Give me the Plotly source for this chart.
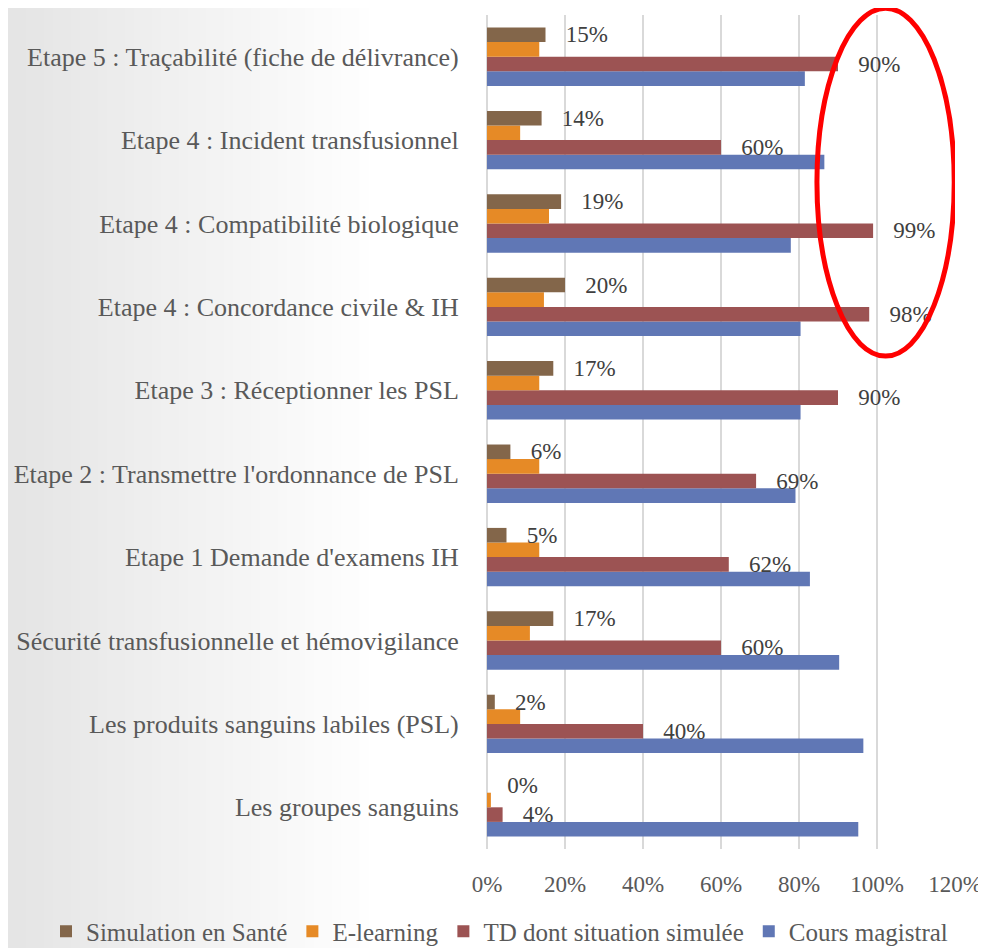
import plotly.graph_objects as go

# categories listed top -> bottom as shown on the chart
categories = [
    "Etape 5 : Traçabilité (fiche de délivrance)",
    "Etape 4 : Incident transfusionnel",
    "Etape 4 : Compatibilité biologique",
    "Etape 4 : Concordance civile & IH",
    "Etape 3 : Réceptionner les PSL",
    "Etape 2 : Transmettre l'ordonnance de PSL",
    "Etape 1 Demande d'examens IH",
    "Sécurité transfusionnelle et hémovigilance",
    "Les produits sanguins labiles (PSL)",
    "Les groupes sanguins",
]
simulation = [0.15, 0.14, 0.19, 0.20, 0.17, 0.06, 0.05, 0.17, 0.02, 0.00]
elearning = [0.134, 0.085, 0.159, 0.146, 0.134, 0.134, 0.134, 0.11, 0.085, 0.01]
td_simulee = [0.90, 0.60, 0.99, 0.98, 0.90, 0.69, 0.62, 0.60, 0.40, 0.04]
cours = [0.815, 0.865, 0.779, 0.804, 0.804, 0.791, 0.828, 0.903, 0.965, 0.952]
x_ticks = [0, 0.2, 0.4, 0.6, 0.8, 1.0, 1.2]

FONT = "'Liberation Serif', 'DejaVu Serif', serif"
GREY = "#595959"

# page body adds ~8px, so figure is a bit smaller than the window
W, H = 978, 940
L, R, T, B = 479, 31, 7, 99
PW = W - L - R

fig = go.Figure()
# first trace sits lowest in each group for horizontal bars
series = [
    ("Cours magistral", cours, "#6077B5", False),
    ("TD dont situation simulée", td_simulee, "#9C5353", True),
    ("E-learning", elearning, "#E68A26", False),
    ("Simulation en Santé", simulation, "#83664A", True),
]
for name, vals, col, lab in series:
    fig.add_trace(go.Bar(
        y=categories, x=vals, name=name, orientation="h",
        marker=dict(color=col, line=dict(width=0)),
        text=[f"   {round(v*100)}%" for v in vals] if lab else None,
        textposition="outside" if lab else "none",
        textfont=dict(family=FONT, size=23, color="#404040"),
        constraintext="none", cliponaxis=False,
    ))

# light slide gradient on the left
shapes = []
n = 40
for i in range(n):
    g = int(229 + (255 - 229) * i / n)
    shapes.append(dict(type="rect", xref="paper", yref="paper",
                       x0=(-L + i * 9) / PW, x1=(-L + (i + 1) * 9 + 1) / PW,
                       y0=-0.13, y1=1.03, line=dict(width=0),
                       fillcolor=f"rgb({g},{g},{g})", layer="below"))
# red ellipse highlight
shapes.append(dict(type="circle", xref="x", yref="paper",
                   x0=0.846, x1=1.198, y0=0.591, y1=1.008,
                   line=dict(color="#FF0000", width=5)))

fig.update_layout(
    width=W, height=H,
    margin=dict(l=L, r=R, t=T, b=B, autoexpand=False),
    barmode="group", bargap=0.3, bargroupgap=0,
    paper_bgcolor="white", plot_bgcolor="white",
    font=dict(family=FONT, size=25, color=GREY),
    shapes=shapes,
    showlegend=True,
    legend=dict(orientation="h", traceorder="reversed",
                x=(38 - L) / PW, xanchor="left", y=-0.099, yanchor="middle",
                font=dict(family=FONT, size=25, color=GREY),
                bgcolor="rgba(0,0,0,0)", itemwidth=30, tracegroupgap=0),
    xaxis=dict(range=[0, 1.2], tickvals=x_ticks, tickformat=".0%",
               showgrid=True, gridcolor="#D9D9D9", gridwidth=2,
               zeroline=True, zerolinecolor="#D9D9D9", zerolinewidth=2,
               ticks="outside", ticklen=14, tickcolor="rgba(0,0,0,0)",
               tickfont=dict(family=FONT, size=23, color=GREY)),
    yaxis=dict(categoryorder="array", categoryarray=categories[::-1],
               showgrid=False, ticks="outside", ticklen=22,
               tickcolor="rgba(0,0,0,0)",
               tickfont=dict(family=FONT, size=26, color=GREY)),
)

fig.write_html("out.html")
